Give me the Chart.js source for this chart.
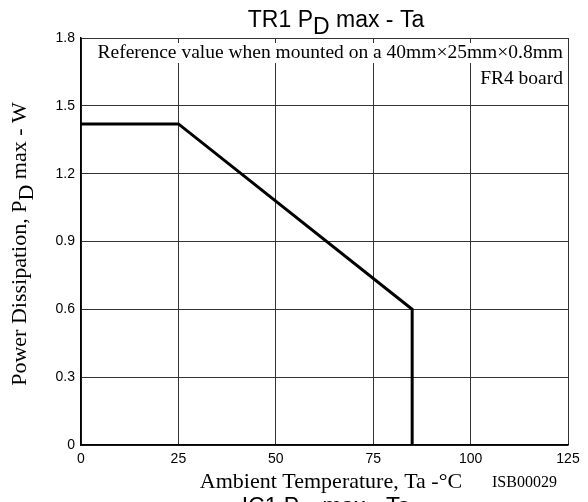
<!DOCTYPE html>
<html>
<head>
<meta charset="utf-8">
<script src="https://cdn.jsdelivr.net/npm/chart.js@4/dist/chart.umd.min.js"></script>
<style>
  html, body { margin: 0; padding: 0; background: #fff; }
  #wrap { width: 588px; height: 502px; }
</style>
</head>
<body>
<div id="wrap"><canvas id="pdChart" width="588" height="502"></canvas></div>
<script>
// derating curve
const tempC = [0, 25, 85, 85];
const powerW = [1.42, 1.42, 0.6, 0];
const xTicks = [0, 25, 50, 75, 100, 125];
const yTicks = [0, 0.3, 0.6, 0.9, 1.2, 1.5, 1.8];
const noteLines = ['Reference value when mounted on a 40mm\u00d725mm\u00d70.8mm', 'FR4 board'];

const serif = '"Liberation Serif", "Times New Roman", serif';
const sans = '"Liberation Sans", Arial, sans-serif';

// draw text with a subscript part: parts = [[text, isSub], ...]
function drawSubText(ctx, parts, x, y, size, family, align) {
    let total = 0;
    ctx.font = size + 'px ' + family;
    parts.forEach(p => { total += ctx.measureText(p[0]).width; });
    let cx = align === 'center' ? x - total / 2 : x;
    ctx.textAlign = 'left';
    ctx.textBaseline = 'alphabetic';
    parts.forEach(p => {
        ctx.fillText(p[0], cx, p[1] ? y + size * 0.3 : y);
        cx += ctx.measureText(p[0]).width;
    });
}

const textPlugin = {
    id: 'texts',
    afterDraw(chart) {
        const ctx = chart.ctx;
        const a = chart.chartArea;
        ctx.save();
        ctx.fillStyle = '#000';

        // title
        drawSubText(ctx, [['TR1 P', false], ['D', true], [' max - Ta', false]], 336, 27, 23, sans, 'center');

        // reference note, white box behind each line
        ctx.font = '19.5px ' + serif;
        ctx.textAlign = 'right';
        ctx.textBaseline = 'alphabetic';
        noteLines.forEach((t, i) => {
            const y = 58 + i * 26;
            const w = ctx.measureText(t).width;
            ctx.fillStyle = '#fff';
            ctx.fillRect(a.right - 5 - w - 2, y - 15, w + 4, 20);
            ctx.fillStyle = '#000';
            ctx.fillText(t, a.right - 5, y);
        });

        // x axis title
        ctx.font = '22px ' + serif;
        ctx.textAlign = 'center';
        ctx.fillText('Ambient Temperature, Ta -\u00b0C', 331, 488);
        ctx.font = '16px ' + serif;
        ctx.textAlign = 'left';
        ctx.fillText('ISB00029', 492, 487);

        // y axis title
        ctx.save();
        ctx.translate(26, 244);
        ctx.rotate(-Math.PI / 2);
        drawSubText(ctx, [['Power Dissipation, P', false], ['D', true], [' max - W', false]], 0, 0, 22, serif, 'center');
        ctx.restore();

        // next chart's title, cut off at the bottom edge
        drawSubText(ctx, [['IC1 P', false], ['D', true], [' max - Ta', false]], 326, 514, 23, sans, 'center');

        ctx.restore();
    }
};

new Chart(document.getElementById('pdChart'), {
    type: 'scatter',
    data: {
        datasets: [{
            data: tempC.map((t, i) => ({ x: t, y: powerW[i] })),
            showLine: true,
            borderColor: '#000',
            borderWidth: 3,
            pointRadius: 0,
            tension: 0
        }]
    },
    options: {
        responsive: false,
        animation: false,
        layout: { padding: { top: 38, right: 20, left: 0, bottom: 0 } },
        plugins: { legend: { display: false }, tooltip: { enabled: false } },
        scales: {
            x: {
                type: 'linear',
                min: 0, max: 125,
                afterBuildTicks: s => { s.ticks = xTicks.map(v => ({ value: v })); },
                afterFit: s => { s.height = 57; },
                grid: { color: '#333', lineWidth: 1, drawTicks: false },
                border: { color: '#000', width: 1.5 },
                ticks: { color: '#000', font: { family: sans, size: 14 }, padding: 6, maxRotation: 0 }
            },
            y: {
                min: 0, max: 1.8,
                afterBuildTicks: s => { s.ticks = yTicks.map(v => ({ value: v })); },
                afterFit: s => { s.width = 81; },
                grid: { color: '#333', lineWidth: 1, drawTicks: false },
                border: { color: '#000', width: 1.5 },
                ticks: {
                    color: '#000', font: { family: sans, size: 14 }, padding: 6,
                    callback: v => v === 0 ? '0' : v.toFixed(1)
                }
            }
        }
    },
    plugins: [textPlugin]
});
</script>
</body>
</html>
